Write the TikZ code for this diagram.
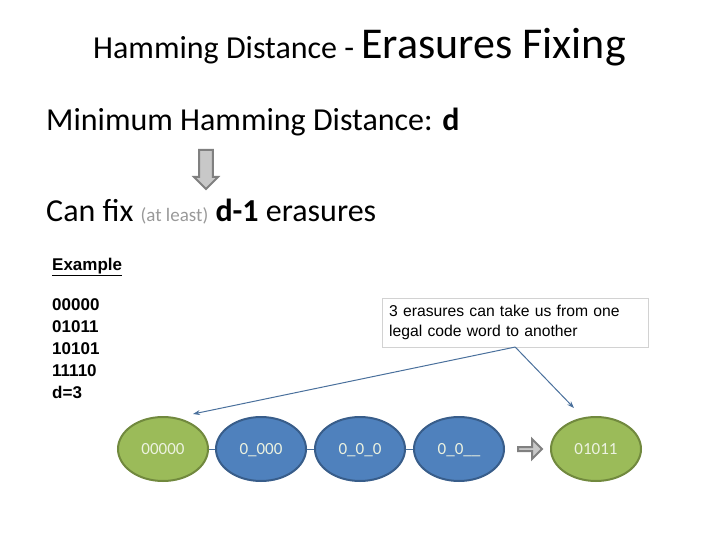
\documentclass[tikz,border=0pt]{standalone}
\usepackage{fontspec}
\setmainfont{Carlito}
\newfontfamily\arial{Liberation Sans}
\usetikzlibrary{arrows.meta,shapes.arrows,shapes.geometric}
\definecolor{codegreen}{RGB}{155,187,89}
\definecolor{codegreenline}{RGB}{113,137,62}
\definecolor{codeblue}{RGB}{79,129,189}
\definecolor{codeblueline}{RGB}{56,93,138}
\definecolor{linkblue}{RGB}{74,112,156}
\definecolor{arrowgray}{RGB}{200,200,200}
\definecolor{arrowline}{RGB}{128,128,128}
\definecolor{wordtext}{RGB}{236,242,224}
\begin{document}
\begin{tikzpicture}[x=1pt, y=-1pt,
  txt/.style={anchor=base west, inner sep=0pt},
  legal/.style={ellipse, draw=codegreenline, line width=2pt, fill=codegreen, minimum width=90pt, minimum height=64pt, inner sep=0pt, text height=11pt, text depth=0pt, text=wordtext, font=\fontsize{17}{20}\selectfont},
  erased/.style={legal, draw=codeblueline, fill=codeblue},
  blockarrow/.style={single arrow, draw=arrowline, line width=2pt, fill=arrowgray, inner sep=0pt, single arrow head extend=4pt},
  link/.style={draw=linkblue, line width=1pt},
  pointer/.style={link, -{Stealth[length=7pt, width=5pt]}}
]
  \useasboundingbox (0,0) rectangle (720,540);

  % heading and the rule
  \node[txt] (title) at (93,59) {\fontsize{32}{36}\selectfont Hamming Distance - \fontsize{44}{48}\selectfont Erasures Fixing};
  \node[txt] (mind) at (46,131) {\fontsize{32}{36}\selectfont Minimum Hamming Distance: \textbf{d}};
  \node[blockarrow, shape border rotate=270, minimum width=24pt, minimum height=39pt, text width=9pt] (down) at (206,166) {};
  \node[txt] (canfix) at (46,222) {\fontsize{32}{36}\selectfont Can fix {\fontsize{19}{22}\selectfont\color{gray!80}(at least)} \textbf{d-1} erasures};

  % example words
  \node[txt] (example) at (52,270) {\arial\fontsize{17}{20}\selectfont\bfseries\underline{Example}};
  \node[anchor=north west, inner sep=0pt, align=left, font=\arial\bfseries\fontsize{17}{22}\selectfont] (words) at (52,298.5) {00000\\01011\\10101\\11110\\d=3};

  \node[draw=gray!35, anchor=north west, text width=252pt, minimum height=45pt, inner sep=7pt, align=left, font=\arial\fontsize{15.7}{20}\selectfont] (note) at (382,298) {3 erasures can take us from one\\legal code word to another};

  % erasure chain
  \node[legal] (w0) at (163,449) {00000};
  \node[erased] (w1) at (261,449) {0\_000};
  \node[erased] (w2) at (360,449) {0\_0\_0};
  \node[erased] (w3) at (459,449) {0\_0\_\_};
  \node[blockarrow, minimum width=20pt, minimum height=24pt, text width=6pt] (next) at (529,449) {};
  \node[legal] (w4) at (596,449) {01011};

  \draw[link] (w0) -- (w1);
  \draw[link] (w1) -- (w2);
  \draw[link] (w2) -- (w3);

  \coordinate (tip0) at (193,414);
  \coordinate (tip4) at (574,408);
  \draw[pointer] (note.south) -- (tip0);
  \draw[pointer] (note.south) -- (tip4);
\end{tikzpicture}
\end{document}
